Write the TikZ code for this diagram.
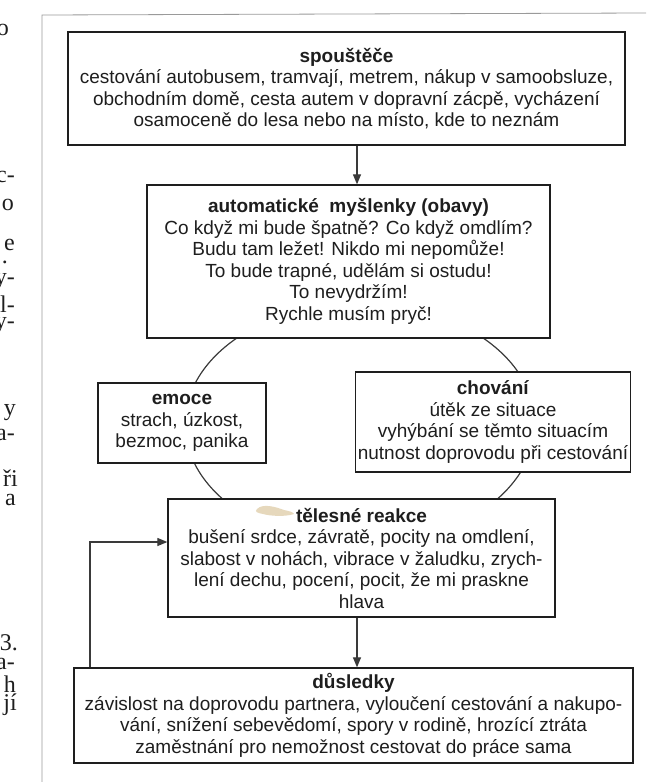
\documentclass[tikz,border=0pt]{standalone}
\usepackage{fontspec}
\setmainfont{Liberation Sans}
\newfontfamily\pageserif{Liberation Serif}
\usetikzlibrary{arrows.meta}
\definecolor{ink}{HTML}{1E1E1E}
\definecolor{conn}{HTML}{3A3A3A}
\definecolor{framegray}{HTML}{9A9A9A}
\definecolor{stain}{HTML}{DCC8A0}
\tikzset{
  box/.style={draw=ink, line width=1.3pt, fill=white, align=center, inner sep=2pt,
    font=\fontsize{19pt}{21.5pt}\selectfont, text=ink},
  conn/.style={draw=conn, line width=1.2pt},
  arr/.style={conn, -{Triangle[length=10pt,width=8pt]}},
  frag/.style={anchor=east, font=\pageserif\fontsize{24pt}{24pt}\selectfont, text=ink, inner sep=0pt}
}
\begin{document}
\begin{tikzpicture}[x=1pt, y=-1pt]
\useasboundingbox (0,0) rectangle (646,782);
% page frame
\draw[framegray, line width=0.8pt] (42,782) -- (42,15) -- (646,13);
% fragments of the neighbouring column
\node[frag] (f1) at (9,30) {o};
\node[frag] (f2) at (15,177) {c-};
\node[frag] (f3) at (14,205) {o};
\node[frag] (f4) at (15,245) {e};
\node[frag] (f5) at (8,262) {.};
\node[frag] (f6) at (15,282) {y-};
\node[frag] (f7) at (15,304) {l-};
\node[frag] (f8) at (15,326) {y-};
\node[frag] (f9) at (16,413) {y};
\node[frag] (f10) at (15,435) {a-};
\node[frag] (f11) at (18,478) {ři};
\node[frag] (f12) at (16,500) {a};
\node[frag] (f13) at (18,643) {3.};
\node[frag] (f14) at (15,664) {a-};
\node[frag] (f15) at (16,684) {h};
\node[frag] (f16) at (17,705) {jí};
% cycle ellipse
\draw[conn] (360,424) ellipse [x radius=175pt, y radius=121pt];
% boxes
\node[box, minimum width=557pt, minimum height=113pt] (b1) at (346.5,88.5)
  {\textbf{spouštěče}\\cestování autobusem, tramvají, metrem, nákup v samoobsluze,\\obchodním domě, cesta autem v dopravní zácpě, vycházení\\osamoceně do lesa nebo na místo, kde to neznám};
\node[box, minimum width=403pt, minimum height=153pt] (b2) at (348.5,261.5)
  {\textbf{automatické~ myšlenky (obavy)}\\Co když mi bude špatně? Co když omdlím?\\Budu tam ležet! Nikdo mi nepomůže!\\To bude trapné, udělám si ostudu!\\To nevydržím!\\Rychle musím pryč!};
\node[box, minimum width=168pt, minimum height=80pt] (emo) at (182,423)
  {\textbf{emoce}\\strach, úzkost,\\bezmoc, panika};
\node[box, minimum width=274pt, minimum height=100pt] (chov) at (493,422)
  {\textbf{chování}\\útěk ze situace\\vyhýbání se těmto situacím\\nutnost doprovodu při cestování};
\node[box, minimum width=387pt, minimum height=118pt] (tel) at (361.5,558)
  {\textbf{tělesné reakce}\\bušení srdce, závratě, pocity na omdlení,\\slabost v nohách, vibrace v žaludku, zrych-\\lení dechu, pocení, pocit, že mi praskne\\hlava};
\node[box, minimum width=559pt, minimum height=95pt] (dus) at (353.5,715.5)
  {\textbf{důsledky}\\závislost na doprovodu partnera, vyloučení cestování a nakupo-\\vání, snížení sebevědomí, spory v rodině, hrozící ztráta\\zaměstnání pro nemožnost cestovat do práce sama};
% stain
\fill[stain, opacity=0.7] (257,509) .. controls (263,503) and (276,507) .. (284,510) .. controls (289,511) and (293,512) .. (294,514) .. controls (285,517) and (270,516) .. (263,514) .. controls (258,513) and (254,512) .. (257,509) -- cycle;
% connectors
\coordinate (a1) at (357,145);
\draw[arr] (b1.south -| a1) -- (b2.north -| a1);
\draw[arr] (tel.south -| a1) -- (dus.north -| a1);
\coordinate (fb) at (90,542);
\draw[arr] (dus.north -| fb) -- (fb) -- (tel.west |- fb);
\end{tikzpicture}
\end{document}
